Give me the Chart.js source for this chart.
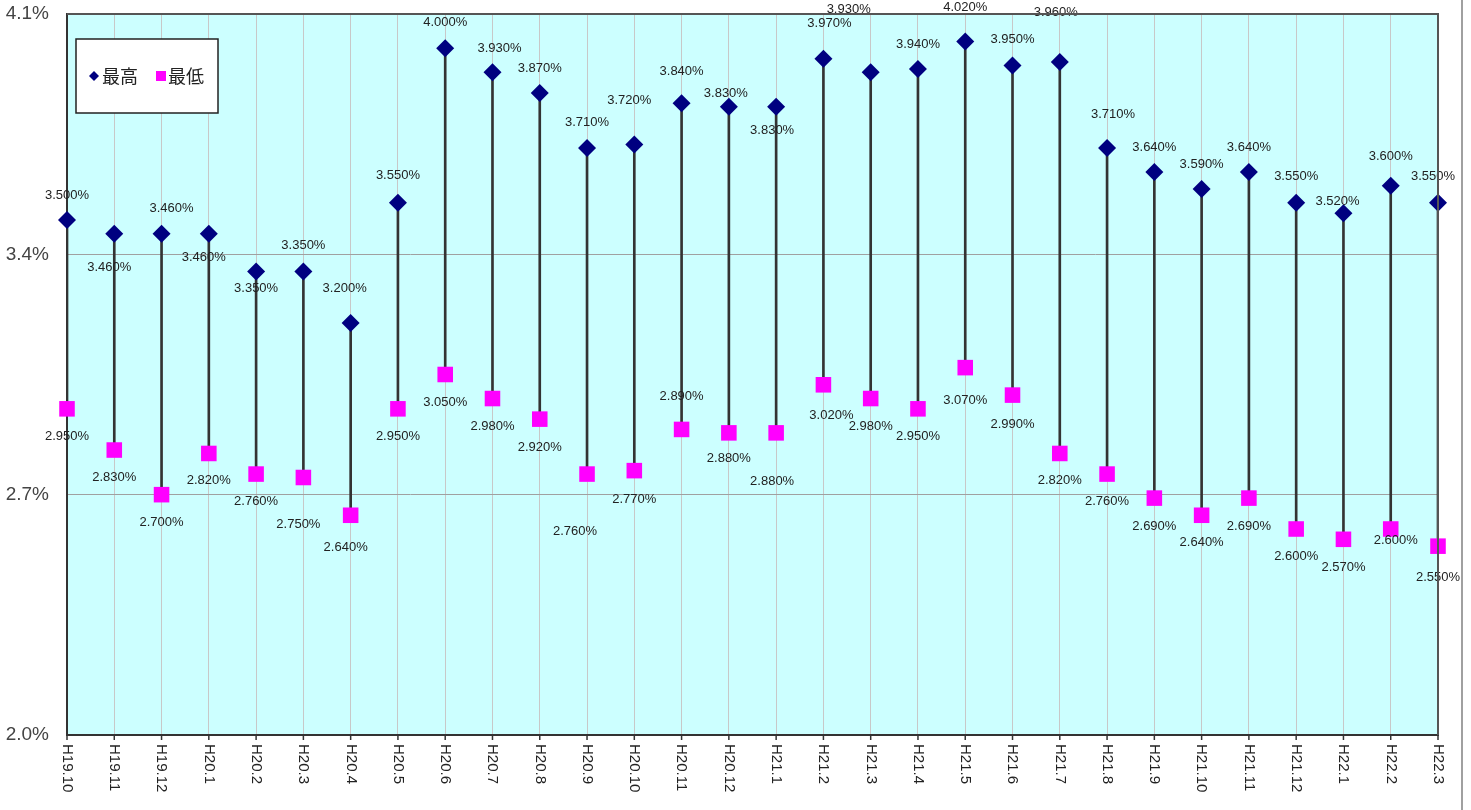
<!DOCTYPE html>
<html>
<head>
<meta charset="utf-8">
<script src="https://cdn.jsdelivr.net/npm/chart.js@4/dist/chart.umd.min.js"></script>
<style>
  html, body { margin: 0; padding: 0; background: #fff; }
  #wrap { width: 1471px; height: 810px; position: relative; }
</style>
</head>
<body>
<div id="wrap"><canvas id="rateChart" width="1471" height="810"></canvas></div>
<script>
// months (Heisei era)
const months = ['H19.10', 'H19.11', 'H19.12', 'H20.1', 'H20.2', 'H20.3', 'H20.4', 'H20.5', 'H20.6', 'H20.7',
  'H20.8', 'H20.9', 'H20.10', 'H20.11', 'H20.12', 'H21.1', 'H21.2', 'H21.3', 'H21.4', 'H21.5',
  'H21.6', 'H21.7', 'H21.8', 'H21.9', 'H21.10', 'H21.11', 'H21.12', 'H22.1', 'H22.2', 'H22.3']

// 最高 (highest rate, %)
const highs = [3.50, 3.46, 3.46, 3.46, 3.35, 3.35, 3.20, 3.55, 4.00, 3.93,
  3.87, 3.71, 3.72, 3.84, 3.83, 3.83, 3.97, 3.93, 3.94, 4.02,
  3.95, 3.96, 3.71, 3.64, 3.59, 3.64, 3.55, 3.52, 3.60, 3.55]

// 最低 (lowest rate, %)
const lows = [2.95, 2.83, 2.70, 2.82, 2.76, 2.75, 2.64, 2.95, 3.05, 2.98,
  2.92, 2.76, 2.77, 2.89, 2.88, 2.88, 3.02, 2.98, 2.95, 3.07,
  2.99, 2.82, 2.76, 2.69, 2.64, 2.69, 2.60, 2.57, 2.60, 2.55]

const yTicks = [2.0, 2.7, 3.4, 4.1]

// where each value label sits relative to its marker (px)
const highLabelDy = [-25, 34, -25, 24, 17, -26, -35, -27, -26, -24,
  -25, -25, -44, -32, -13, 24, -35, -63, -25, -34,
  -26, -50, -33, -25, -25, -25, -26, -12, -29, -26]
const highLabelDx = [0, -5, 10, -5, 0, 0, -6, 0, 0, 7,
  0, 0, -5, 0, -3, -4, 6, -22, 0, 0,
  0, -4, 6, 0, 0, 0, 0, -6, 0, -5]
const lowLabelDy = [28, 27, 28, 27, 27, 47, 32, 28, 28, 28,
  28, 57, 29, -33, 26, 49, 31, 28, 28, 33,
  29, 27, 27, 28, 27, 28, 27, 28, 11, 31]
const lowLabelDx = [0, 0, 0, 0, 0, -5, -5, 0, 0, 0,
  0, -12, 0, 0, 0, -4, 8, 0, 0, 0,
  0, 0, 0, 0, 0, 0, 0, 0, 5, 0]

const HIGH_COLOR = '#000080'
const LOW_COLOR = '#ff00ff'
const FONT_LATIN = '"Liberation Sans", Arial, sans-serif'
const FONT_JP = '"Noto Sans CJK JP", "Liberation Sans", sans-serif'

const fmt = (v) => v.toFixed(3) + '%'

const plotDecor = {
  id: 'plotDecor',
  beforeDraw(chart) {
    const { ctx, chartArea: a } = chart
    ctx.save()
    ctx.fillStyle = '#ccffff'
    ctx.fillRect(a.left, a.top, a.right - a.left, a.bottom - a.top)
    ctx.restore()
  },
  afterDatasetsDraw(chart) {
    const ctx = chart.ctx
    ctx.save()
    ctx.font = '13px ' + FONT_LATIN
    ctx.fillStyle = '#222'
    ctx.textAlign = 'center'
    ctx.textBaseline = 'middle'
    chart.getDatasetMeta(1).data.forEach((pt, i) => {
      ctx.fillText(fmt(highs[i]), pt.x + highLabelDx[i], pt.y + highLabelDy[i])
    })
    chart.getDatasetMeta(2).data.forEach((pt, i) => {
      ctx.fillText(fmt(lows[i]), pt.x + lowLabelDx[i], pt.y + lowLabelDy[i])
    })
    ctx.restore()
  },
  afterDraw(chart) {
    const { ctx, chartArea: a } = chart
    const xScale = chart.scales.x
    ctx.save()

    // top / right frame of the plot
    ctx.strokeStyle = '#555'
    ctx.lineWidth = 2
    ctx.beginPath()
    ctx.moveTo(a.left, a.top)
    ctx.lineTo(a.right, a.top)
    ctx.lineTo(a.right, a.bottom)
    ctx.stroke()

    // outer frame edge
    ctx.strokeStyle = '#a0a0a0'
    ctx.beginPath()
    ctx.moveTo(1462, 0)
    ctx.lineTo(1462, 810)
    ctx.stroke()

    // x tick marks and vertical labels
    ctx.strokeStyle = '#333'
    ctx.lineWidth = 1.5
    ctx.fillStyle = '#222'
    ctx.font = '15px ' + FONT_LATIN
    ctx.textAlign = 'left'
    ctx.textBaseline = 'middle'
    months.forEach((m, i) => {
      const x = xScale.getPixelForTick(i)
      ctx.beginPath()
      ctx.moveTo(x, a.bottom)
      ctx.lineTo(x, a.bottom + 5)
      ctx.stroke()
      ctx.save()
      ctx.translate(x, a.bottom + 9)
      ctx.rotate(Math.PI / 2)
      ctx.fillText(m, 0, 0)
      ctx.restore()
    })

    // legend box
    const lx = a.left + 9, ly = a.top + 25, lw = 142, lh = 74
    ctx.fillStyle = '#fff'
    ctx.fillRect(lx, ly, lw, lh)
    ctx.strokeStyle = '#222'
    ctx.lineWidth = 1.5
    ctx.strokeRect(lx, ly, lw, lh)
    const cy = ly + lh / 2
    ctx.fillStyle = HIGH_COLOR
    ctx.beginPath()
    ctx.moveTo(lx + 18, cy - 5)
    ctx.lineTo(lx + 23, cy)
    ctx.lineTo(lx + 18, cy + 5)
    ctx.lineTo(lx + 13, cy)
    ctx.closePath()
    ctx.fill()
    ctx.fillStyle = LOW_COLOR
    ctx.fillRect(lx + 80, cy - 5, 10, 10)
    ctx.fillStyle = '#222'
    ctx.font = '18px ' + FONT_JP
    ctx.textAlign = 'left'
    ctx.textBaseline = 'middle'
    ctx.fillText('最高', lx + 26, cy)
    ctx.fillText('最低', lx + 92, cy)

    ctx.restore()
  },
}

const ctx = document.getElementById('rateChart').getContext('2d')
new Chart(ctx, {
  type: 'bar',
  data: {
    labels: months,
    datasets: [
      {
        label: 'range',
        data: lows.map((l, i) => [l, highs[i]]),
        backgroundColor: '#333',
        borderWidth: 0,
        barThickness: 2,
        order: 2,
      },
      {
        type: 'line',
        label: '最高',
        data: highs,
        showLine: false,
        pointStyle: 'rectRot',
        pointRadius: 9,
        pointBackgroundColor: HIGH_COLOR,
        pointBorderColor: HIGH_COLOR,
        pointBorderWidth: 0,
        order: 0,
      },
      {
        type: 'line',
        label: '最低',
        data: lows,
        showLine: false,
        pointStyle: 'rect',
        pointRadius: 11,
        pointBackgroundColor: LOW_COLOR,
        pointBorderColor: LOW_COLOR,
        pointBorderWidth: 0,
        order: 1,
      },
    ],
  },
  options: {
    responsive: false,
    animation: false,
    layout: { padding: { top: 14, right: 33, left: 0, bottom: 0 } },
    plugins: {
      legend: { display: false },
      tooltip: { enabled: false },
    },
    scales: {
      x: {
        offset: false,
        grid: { offset: false, color: '#c8c8c8', lineWidth: 1, drawTicks: false },
        border: { display: true, color: '#333', width: 2 },
        ticks: { display: false },
        afterFit: (scale) => { scale.height = 75 },
      },
      y: {
        min: 2.0,
        max: 4.1,
        afterBuildTicks: (scale) => { scale.ticks = yTicks.map((v) => ({ value: v })) },
        grid: { color: '#a0a0a0', lineWidth: 1, drawTicks: false },
        border: { display: true, color: '#333', width: 2 },
        ticks: {
          padding: 18,
          color: '#444',
          font: { size: 19, family: FONT_LATIN },
          callback: (v) => Number(v).toFixed(1) + '%',
        },
        afterFit: (scale) => {
          scale.width = 67
          scale.paddingTop = 0
          scale.paddingBottom = 0
        },
      },
    },
  },
  plugins: [plotDecor],
})
</script>
</body>
</html>
